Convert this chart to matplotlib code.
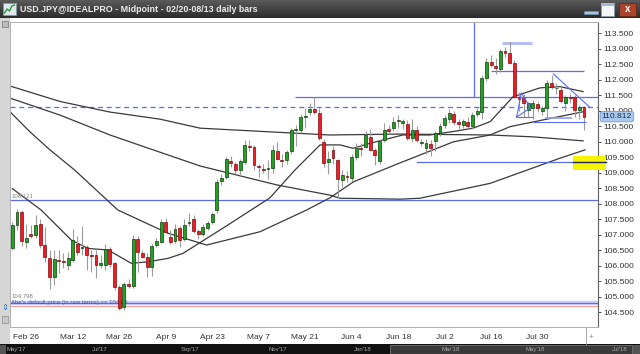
import matplotlib
matplotlib.use("Agg")
import matplotlib.pyplot as plt
import numpy as np
from matplotlib.colors import LinearSegmentedColormap
from matplotlib.patches import Rectangle
from matplotlib.transforms import blended_transform_factory

# USD.JPY daily bars, 02/20 .. 08/13 (index 0 = Feb 20)
opens = [107.10, 106.56, 107.32, 107.74, 106.78, 107.02, 106.99, 107.35, 106.67, 106.24,
         105.63, 106.19, 106.17, 106.03, 106.19, 106.70, 106.56, 106.60, 106.36, 106.35,
         106.03, 106.03, 106.53, 106.08, 105.31, 104.68, 105.41, 105.35, 106.85, 106.42,
         106.29, 105.97, 106.67, 106.78, 107.42, 106.94, 106.80, 107.23, 106.86, 107.37,
         107.51, 107.13, 107.02, 107.23, 107.40, 107.80, 108.74, 108.86, 109.38, 109.28,
         109.09, 109.36, 109.86, 109.84, 109.22, 109.12, 109.12, 109.15, 109.71, 109.41,
         109.41, 109.70, 110.38, 110.38, 110.79, 110.95, 111.06, 110.92, 110.00, 109.36,
         109.74, 109.41, 108.77, 108.89, 108.82, 109.52, 109.81, 109.84, 110.16, 109.74,
         109.38, 110.06, 110.40, 110.44, 110.66, 110.62, 110.56, 110.13, 110.38, 109.96,
         109.81, 109.92, 110.03, 110.27, 110.54, 110.74, 110.89, 110.63, 110.54, 110.63,
         110.52, 110.89, 110.95, 112.05, 112.58, 112.45, 112.34, 112.93, 112.87, 112.53,
         111.45, 111.40, 111.03, 111.08, 111.22, 111.00, 111.08, 111.91, 111.72, 111.67,
         111.24, 111.44, 111.45, 111.03, 111.12]
highs = [107.30, 107.41, 107.83, 107.80, 107.35, 107.32, 107.64, 107.51, 107.25, 106.51,
         106.51, 106.51, 106.41, 106.45, 107.18, 106.96, 107.30, 106.68, 106.50, 106.51,
         106.35, 106.70, 106.61, 106.12, 105.38, 105.48, 105.57, 106.99, 106.96, 106.51,
         106.41, 106.70, 106.90, 107.51, 107.55, 107.15, 107.35, 107.30, 107.50, 107.70,
         107.65, 107.20, 107.35, 107.45, 107.75, 108.80, 108.95, 109.50, 109.55, 109.35,
         109.45, 110.05, 110.05, 109.90, 109.30, 109.30, 109.40, 109.90, 110.00, 109.60,
         109.75, 110.45, 110.55, 110.90, 111.10, 111.25, 111.45, 111.10, 110.10, 109.70,
         109.85, 109.45, 109.10, 109.05, 109.60, 109.95, 109.95, 110.35, 110.40, 109.80,
         110.10, 110.60, 110.55, 110.80, 110.85, 110.75, 110.70, 110.75, 110.50, 110.10,
         110.10, 110.05, 110.35, 110.60, 110.85, 111.05, 111.00, 110.75, 110.75, 110.80,
         110.95, 111.10, 112.15, 112.70, 112.80, 112.70, 113.00, 113.05, 113.23, 112.65,
         111.60, 111.55, 111.30, 111.35, 111.30, 111.15, 112.00, 112.15, 111.90, 111.80,
         111.50, 111.55, 111.50, 111.20, 111.15]
lows = [106.50, 106.51, 107.16, 106.64, 106.57, 106.90, 106.90, 106.57, 106.12, 105.25,
        105.38, 105.77, 105.93, 105.86, 106.12, 106.35, 106.35, 105.87, 105.80, 105.60,
        105.93, 105.86, 105.96, 105.22, 104.57, 104.57, 105.28, 105.28, 105.80, 106.26,
        105.64, 105.67, 106.61, 106.74, 107.05, 106.70, 106.75, 106.60, 106.80, 107.30,
        107.05, 106.85, 106.95, 107.15, 107.35, 107.70, 108.60, 108.80, 109.20, 108.95,
        108.90, 109.30, 109.70, 109.10, 108.85, 109.00, 108.80, 109.00, 109.40, 109.20,
        109.30, 109.60, 109.85, 110.30, 110.45, 110.85, 110.90, 110.05, 109.20, 108.95,
        109.30, 108.19, 108.55, 108.70, 108.75, 109.40, 109.55, 109.80, 109.70, 109.25,
        109.30, 110.00, 110.25, 110.35, 110.45, 110.40, 110.05, 110.00, 110.00, 109.85,
        109.60, 109.55, 109.70, 110.20, 110.45, 110.60, 110.55, 110.40, 110.45, 110.45,
        110.40, 110.80, 110.75, 111.95, 112.40, 112.20, 112.25, 112.75, 112.50, 111.40,
        111.00, 110.80, 110.80, 110.75, 110.95, 110.85, 110.80, 111.70, 111.55, 111.25,
        111.00, 111.25, 110.80, 110.75, 110.38]
closes = [106.60, 107.32, 107.74, 106.80, 106.89, 106.96, 107.32, 106.67, 106.27, 105.65,
          106.21, 106.15, 106.12, 106.24, 106.83, 106.46, 106.62, 106.35, 106.33, 106.03,
          106.09, 106.53, 106.06, 105.31, 104.63, 105.41, 105.35, 106.85, 106.45, 106.29,
          105.95, 106.64, 106.81, 107.41, 107.10, 106.78, 107.19, 106.83, 107.32, 107.41,
          107.13, 107.03, 107.26, 107.37, 107.66, 108.71, 108.82, 109.45, 109.31, 109.09,
          109.38, 109.90, 109.82, 109.25, 109.18, 109.09, 109.16, 109.74, 109.45, 109.38,
          109.66, 110.38, 110.42, 110.81, 110.83, 111.06, 110.95, 110.11, 109.31, 109.45,
          109.47, 108.80, 108.93, 108.86, 109.52, 109.81, 109.76, 110.22, 109.74, 109.57,
          110.03, 110.38, 110.36, 110.63, 110.70, 110.66, 110.13, 110.38, 110.06, 110.00,
          109.95, 109.81, 110.27, 110.52, 110.76, 110.92, 110.63, 110.56, 110.67, 110.52,
          110.86, 110.99, 112.05, 112.58, 112.48, 112.38, 112.94, 112.88, 112.53, 111.45,
          111.37, 111.24, 111.24, 111.26, 111.08, 111.08, 111.91, 111.78, 111.75, 111.33,
          111.45, 111.41, 111.03, 111.12, 110.812]

date_labels = ["Feb 26", "Mar 12", "Mar 26", "Apr 9", "Apr 23", "May 7",
               "May 21", "Jun 4", "Jun 18", "Jul 2", "Jul 16", "Jul 30"]
date_label_bars = [4, 14, 24, 34, 44, 54, 64, 74, 84, 94, 104, 114]

# moving averages at sample bars
ma_fast_bars = [1, 7.2, 13.7, 17.3, 21.6, 26.6, 30.2, 34.5, 37.7, 47, 56.4, 61.8, 67.2,
                71.5, 74.3, 77.9, 85, 90.8, 95.8, 100.1, 103.8, 108.7, 114.5, 118.8, 123.8]
ma_fast_vals = [108.49, 107.80, 106.83, 106.56, 106.51, 106.08, 106.13, 106.24, 106.40,
                107.28, 108.19, 109.09, 109.90, 109.90, 109.79, 109.95, 110.22, 110.22,
                110.33, 110.44, 110.65, 111.45, 111.74, 111.78, 111.62]
ma_mid_bars = [0.5, 4.8, 9.1, 14.4, 23.7, 34.5, 42.8, 54.3, 64.3, 69.3, 74.4, 84.4,
               95.9, 103.8, 108.1, 123.8]
ma_mid_vals = [110.97, 110.32, 109.74, 109.09, 107.80, 107.05, 106.67, 107.10, 107.80,
               108.19, 108.71, 109.32, 110.00, 110.22, 110.49, 110.97]
ma_slow_bars = [0.5, 11.3, 22, 31.3, 41.4, 57.9, 69.3, 71.5, 84.4, 88.7, 103.8, 118.8, 124.2]
ma_slow_vals = [111.41, 110.86, 110.22, 109.74, 109.22, 108.61, 108.28, 108.18, 108.15,
                108.18, 108.66, 109.47, 109.74]
ma_long_bars = [0.5, 11.3, 22, 32.8, 41.4, 69.3, 84.4, 103.8, 113, 123.8]
ma_long_vals = [111.80, 111.30, 110.96, 110.73, 110.44, 110.22, 110.25, 110.22, 110.16, 110.03]

# drawn levels and trend lines
level_abe = 104.798
level_abe_low = 104.69
level_support = 108.121
level_zone = 109.35
level_prev_close = 111.12
level_resist = 111.44
level_upper = 112.28
level_top = 113.20
resist_start_bar = 61.8
zone_start_bar = 88
upper_bars = [104, 124]
top_bars = [106.3, 112.8]
vert_bar = 100.3
tri_a_bars = [109.5, 110.5, 112.5]
tri_a_vals = [110.80, 111.58, 111.10]
tri_a_base = [109.5, 113.0]
tri_b_bars = [117.4, 125.2]
tri_b_vals = [112.19, 111.12]
tri_b_base1 = [115.6, 121.4, 110.77]
tri_b_base2 = [113.0, 124.4, 110.64]
zone_box = [121.6, 128.7, 109.10, 109.55]

yticks = np.arange(104.5, 113.51, 0.5)

W, H = 640, 354
fig = plt.figure(figsize=(W / 100, H / 100), dpi=100, facecolor="white")
plt.rcParams["font.family"] = ["Liberation Sans", "DejaVu Sans"]

# window chrome
bg = fig.add_axes([0, 0, 1, 1], zorder=0)
bg.set_xlim(0, W)
bg.set_ylim(H, 0)
bg.axis("off")
bar_cmap = LinearSegmentedColormap.from_list("tb", ["#5a5a5a", "#2c2c2c"])
bg.imshow(np.linspace(0, 1, 20).reshape(-1, 1), cmap=bar_cmap, extent=(0, W, 18, 0), aspect="auto")
bg.add_patch(Rectangle((0, 18), 10, 326, facecolor="#d6d6d6", edgecolor="none"))
bg.add_patch(Rectangle((0, 344), W, 10, facecolor="#111111", edgecolor="none"))
bg.add_patch(Rectangle((390, 344.5), 242, 9.5, facecolor="#3a3a3a", edgecolor="#777777", lw=0.6))
bg.add_patch(Rectangle((0, 345), 6, 9, facecolor="#555555", edgecolor="none"))
bg.add_patch(Rectangle((633, 345), 7, 9, facecolor="#555555", edgecolor="none"))
for lbl, px in zip(["May'17", "Jul'17", "Sep'17", "Nov'17", "Jan'18", "Mar'18", "May'18", "Jul'18"],
                   [16, 100, 190, 278, 363, 451, 535, 620]):
    bg.text(px, 349.5, lbl, color="#a8a8a8", fontsize=4.3, ha="center", va="center")
# title icon + text
bg.add_patch(Rectangle((3, 3), 13, 12, facecolor="#dfe8f0", edgecolor="#8899aa", lw=0.5))
bg.plot([4.5, 7, 9.5, 12, 14.5], [13, 9, 11, 6, 5], color="#2a9a3a", lw=1)
bg.text(20, 9.5, "USD.JPY@IDEALPRO - Midpoint - 02/20-08/13 daily bars", color="#ececec",
        fontsize=6.4, fontweight="bold", va="center")
# window buttons
bg.add_patch(Rectangle((584, 10.5), 14, 3.5, facecolor="#a9c4de", edgecolor="#6d8fb0", lw=0.5))
bg.add_patch(Rectangle((601, 3), 13, 12.5, facecolor="#f4f6f8", edgecolor="#8a9aaa", lw=0.6))
bg.add_patch(Rectangle((601, 3), 13, 2.5, facecolor="#9fb8d4", edgecolor="none"))
bg.add_patch(Rectangle((619, 3), 17, 12.5, facecolor="#a9432c", edgecolor="#6a2a1a", lw=0.6))
bg.text(627.5, 9.5, "x", color="white", fontsize=7, fontweight="bold", ha="center", va="center")
# left toolbar icons
bg.add_patch(Rectangle((2, 21), 6, 6, facecolor="#bdbdbd", edgecolor="#777777", lw=0.5))
bg.text(5, 307, "\u21d5", color="#2a78d0", fontsize=6, ha="center", va="center",
        family="DejaVu Sans")
bg.add_patch(Rectangle((2, 316), 6, 7, facecolor="#c8c8c8", edgecolor="#909090", lw=0.5))
bg.plot([586, 586], [327, 344], color="#999999", lw=0.6)
bg.text(591, 338, "+", color="#888888", fontsize=6, ha="center", va="center")

# price chart
ax = fig.add_axes([10 / W, 27 / H, 588 / W, 305 / H], zorder=1)
ax.set_facecolor("white")
ax.set_xlim(0.5, 127.0)
ax.set_ylim(104.026, 113.865)

idx = np.arange(len(opens))
o, h, l, c = (np.array(v) for v in (opens, highs, lows, closes))
up = c >= o
ax.vlines(idx, l, h, color="#9c9c9c", lw=0.8, zorder=3)
ax.bar(idx[up], np.maximum((c - o)[up], 0.02), bottom=o[up], width=0.62,
       color="#25a025", edgecolor="#0b420b", lw=0.5, zorder=4)
ax.bar(idx[~up], np.maximum((o - c)[~up], 0.02), bottom=c[~up], width=0.62,
       color="#f01c24", edgecolor="#7a0c10", lw=0.5, zorder=4)

for bx, vy in [(ma_fast_bars, ma_fast_vals), (ma_mid_bars, ma_mid_vals),
               (ma_slow_bars, ma_slow_vals), (ma_long_bars, ma_long_vals)]:
    ax.plot(bx, vy, color="#3a3a3a", lw=0.9, zorder=2)

blue = "#5b6cf2"
ax.axhline(level_abe, color="#c9cdfa", lw=3.2, zorder=1)
ax.axhline(level_abe, color=blue, lw=0.8, zorder=1)
ax.axhline(level_abe_low, color="#f2a394", lw=0.8, zorder=1)
ax.axhline(level_support, color=blue, lw=0.9, zorder=1)
ax.axhline(level_prev_close, color=blue, lw=0.9, ls=(0, (4, 3)), zorder=1)
ax.hlines(level_resist, resist_start_bar, 127, color=blue, lw=0.9, zorder=1)
ax.vlines(vert_bar, level_resist, 113.865, color=blue, lw=0.9, zorder=1)
ax.hlines(level_upper, upper_bars[0], upper_bars[1], color=blue, lw=0.9, zorder=1)
ax.hlines(level_top, top_bars[0], top_bars[1], color="#b4bcf4", lw=2.2, zorder=1)
ax.plot(tri_a_bars + [tri_a_bars[0]], tri_a_vals + [tri_a_vals[0]], color=blue, lw=0.8, zorder=5)
ax.hlines(tri_a_vals[0], tri_a_base[0], tri_a_base[1], color=blue, lw=0.8, zorder=5)
ax.plot(tri_b_bars, tri_b_vals, color=blue, lw=0.8, zorder=5)
ax.hlines(tri_b_base1[2], tri_b_base1[0], tri_b_base1[1], color="#8f9cf4", lw=1.2, zorder=5)
ax.hlines(tri_b_base2[2], tri_b_base2[0], tri_b_base2[1], color=blue, lw=0.8, zorder=5)

ax.add_patch(Rectangle((zone_box[0], zone_box[2]), zone_box[1] - zone_box[0],
                       zone_box[3] - zone_box[2], facecolor="#f5f500", edgecolor="none",
                       zorder=6, clip_on=False))
ax.plot([zone_start_bar, zone_box[1]], [level_zone, level_zone], color=blue, lw=0.9,
        zorder=7, clip_on=False)
ax.plot([zone_box[0], zone_box[1]], [level_zone, level_zone], color="#222266", lw=0.9,
        zorder=7, clip_on=False)

ax.text(0.8, level_support + 0.04, "108.121", color="#808080", fontsize=4.3, va="bottom", zorder=6)
ax.text(0.8, level_abe + 0.13, "104.798", color="#808080", fontsize=4.3, va="bottom", zorder=6)
ax.text(0.8, level_abe - 0.06, "Abe's default price (in raw terms) <= 104.85", color="#4455aa",
        fontsize=4.3, va="bottom", zorder=2)

# axes styling
ax.yaxis.tick_right()
ax.set_yticks(yticks)
ax.set_yticklabels([f"{v:.3f}" for v in yticks])
ax.tick_params(axis="y", length=2, width=0.6, pad=1.5, labelsize=6.1, colors="#333333")
ax.set_xticks(date_label_bars)
ax.set_xticklabels(date_labels)
ax.tick_params(axis="x", length=0, pad=5, labelsize=6.0, colors="#333333")
for side in ("left", "top", "bottom"):
    ax.spines[side].set_color("#b0b0b0")
    ax.spines[side].set_linewidth(0.7)
ax.spines["right"].set_color("#606060")
ax.spines["right"].set_linewidth(0.8)

# last price tag
tr = blended_transform_factory(ax.transAxes, ax.transData)
ax.text(1.0065, closes[-1], f"{closes[-1]:.3f}", transform=tr, fontsize=6.1, color="#1a2a4a",
        va="center", ha="left", zorder=8,
        bbox=dict(boxstyle="round,pad=0.2,rounding_size=0.3", facecolor="#a9c9ee",
                  edgecolor="#6a9ad6", lw=0.6))

fig.savefig("out.png", dpi=100, facecolor=fig.get_facecolor())
